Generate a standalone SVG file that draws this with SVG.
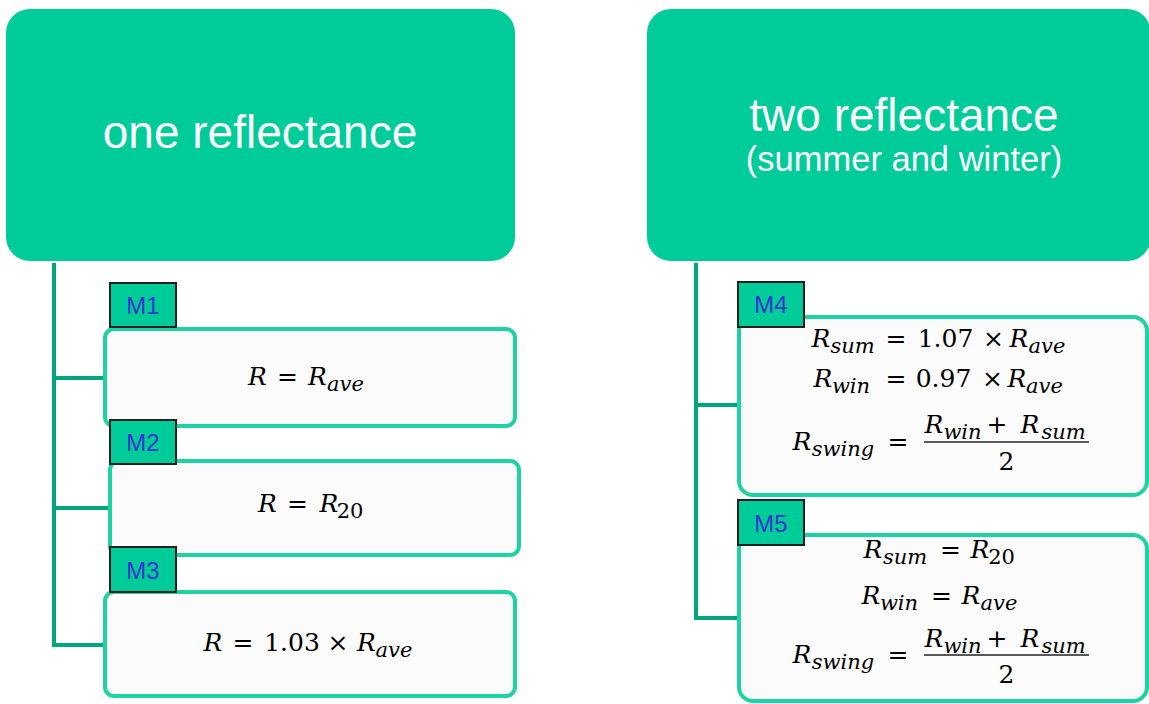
<svg xmlns="http://www.w3.org/2000/svg" width="1149" height="704" viewBox="0 0 1149 704">
<style>
.hdr{fill:#00CC99}
.box{fill:#FBFBFB;stroke:#1DD3A2;stroke-width:4}
.tag{fill:#00CC99;stroke:#1F1F1F;stroke-width:2}
.tagt{font-family:"Liberation Sans",Arial,sans-serif;font-size:24px;fill:#3535CF;text-anchor:middle}
.title{font-family:"Liberation Sans",Arial,sans-serif;fill:#FFFFFF;text-anchor:middle}
.m{font-family:"DejaVu Serif",serif;font-size:25px;fill:#000000;text-anchor:middle}
.i{font-style:italic}
.s{font-size:21px}
.conn{stroke:#00A67C;stroke-width:4;fill:none}
.frac{stroke:#222222;stroke-width:1.6}
</style>
<rect width="1149" height="704" fill="#FFFFFF"/>
<g id="connectors">
<path class="conn" d="M54,263 V645 H104 M54,378 H104 M54,508 H109"/>
<path class="conn" d="M696,263 V618 H738 M696,405 H738"/>
</g>
<g id="header-one">
<rect class="hdr" x="6" y="9" width="509" height="252" rx="24"/>
<text class="title" x="260" y="148" font-size="46">one reflectance</text>
</g>
<g id="header-two">
<rect class="hdr" x="647" y="9" width="504" height="252" rx="24"/>
<text class="title" x="904" y="131" font-size="46">two reflectance</text>
<text class="title" x="904" y="171" font-size="34.5">(summer and winter)</text>
</g>
<g id="M1">
<rect class="box" x="105" y="329" width="410" height="97" rx="9"/>
<rect class="tag" x="110" y="283" width="66" height="44"/>
<text class="tagt" x="143" y="314">M1</text>
<text class="m i" x="257.5" y="385">R</text>
<text class="m" x="287.5" y="385">=</text>
<text class="m i" x="317.5" y="385">R</text>
<text class="m i s" x="345.5" y="391">ave</text>
</g>
<g id="M2">
<rect class="box" x="110" y="461" width="409" height="94" rx="9"/>
<rect class="tag" x="110" y="420" width="66" height="44"/>
<text class="tagt" x="143" y="451">M2</text>
<text class="m i" x="267.5" y="512">R</text>
<text class="m" x="297.5" y="512">=</text>
<text class="m i" x="329" y="512">R</text>
<text class="m s" x="350" y="518">20</text>
</g>
<g id="M3">
<rect class="box" x="105" y="592" width="410" height="104" rx="9"/>
<rect class="tag" x="110" y="547" width="66" height="45"/>
<text class="tagt" x="143" y="579">M3</text>
<text class="m i" x="213" y="651">R</text>
<text class="m" x="243" y="651">=</text>
<text class="m" x="292" y="651">1.03</text>
<text class="m" x="338" y="651">×</text>
<text class="m i" x="366.5" y="651">R</text>
<text class="m i s" x="394" y="657">ave</text>
</g>
<g id="M4">
<rect class="box" x="739" y="317" width="408" height="178" rx="14"/>
<rect class="tag" x="738" y="282" width="66" height="45"/>
<text class="tagt" x="771" y="313">M4</text>
<text class="m i" x="821" y="347">R</text>
<text class="m i s" x="852.5" y="353">sum</text>
<text class="m" x="896" y="347">=</text>
<text class="m" x="945.5" y="347">1.07</text>
<text class="m" x="993.5" y="347">×</text>
<text class="m i" x="1019" y="347">R</text>
<text class="m i s" x="1047" y="353">ave</text>
<text class="m i" x="823" y="387">R</text>
<text class="m i s" x="851" y="393">win</text>
<text class="m" x="896" y="387">=</text>
<text class="m" x="943.5" y="387">0.97</text>
<text class="m" x="992.5" y="387">×</text>
<text class="m i" x="1017" y="387">R</text>
<text class="m i s" x="1044.5" y="393">ave</text>
<text class="m i" x="802" y="450">R</text>
<text class="m i s" x="843" y="456">swing</text>
<text class="m" x="898" y="450">=</text>
<text class="m i" x="934" y="433">R</text>
<text class="m i s" x="962.5" y="439">win</text>
<text class="m" x="997" y="433">+</text>
<text class="m i" x="1030" y="433">R</text>
<text class="m i s" x="1063.5" y="439">sum</text>
<line class="frac" x1="924" y1="442" x2="1089" y2="442"/>
<text class="m" x="1006.5" y="470">2</text>
</g>
<g id="M5">
<rect class="box" x="739" y="535" width="408" height="166" rx="14"/>
<rect class="tag" x="738" y="500" width="66" height="45"/>
<text class="tagt" x="771" y="532">M5</text>
<text class="m i" x="873" y="558">R</text>
<text class="m i s" x="905" y="564">sum</text>
<text class="m" x="950.5" y="558">=</text>
<text class="m i" x="980" y="558">R</text>
<text class="m s" x="1001.5" y="564">20</text>
<text class="m i" x="871" y="604">R</text>
<text class="m i s" x="899" y="610">win</text>
<text class="m" x="941.5" y="604">=</text>
<text class="m i" x="971" y="604">R</text>
<text class="m i s" x="999" y="610">ave</text>
<text class="m i" x="802" y="663">R</text>
<text class="m i s" x="843" y="669">swing</text>
<text class="m" x="898" y="663">=</text>
<text class="m i" x="934" y="647">R</text>
<text class="m i s" x="962.5" y="653">win</text>
<text class="m" x="997" y="647">+</text>
<text class="m i" x="1030" y="647">R</text>
<text class="m i s" x="1063.5" y="653">sum</text>
<line class="frac" x1="924" y1="655" x2="1089" y2="655"/>
<text class="m" x="1006.5" y="683">2</text>
</g>
</svg>
